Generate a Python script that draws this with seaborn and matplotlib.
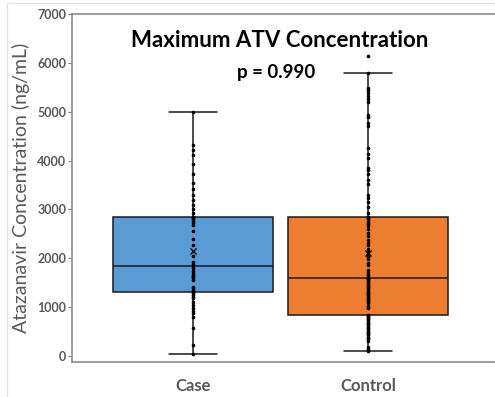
import numpy as np
import pandas as pd
import matplotlib
matplotlib.use("Agg")
import matplotlib.pyplot as plt
import seaborn as sns
from matplotlib.patches import Rectangle

# values (ng/mL)
case_vals = [50, 219, 568, 805, 875, 928, 977, 1050, 1113, 1180, 1215, 1250, 1285,
             1305,
             1317, 1352, 1387, 1420, 1557, 1590, 1613, 1640, 1660, 1707, 1740, 1800,
             1850,
             1879, 1932, 2050, 2275, 2391, 2561, 2684, 2719, 2766, 2800, 2830, 2845,
             2855,
             2924, 3006, 3088, 3197, 3299, 3416, 3551, 3715, 3920, 4119, 4207, 4309, 5000]

control_vals = [109, 123, 150, 191, 300, 342, 370, 396, 420, 445, 470, 498, 520, 547,
                575, 600, 630, 656, 680, 703, 730, 752, 780, 805, 820,
                840,
                977, 1000, 1025, 1080, 1120, 1130, 1161, 1190, 1215, 1240, 1264, 1290,
                1300, 1317, 1350, 1387, 1410, 1434, 1460, 1490, 1520, 1550, 1572, 1590,
                1598,
                1660, 1680, 1727, 1762, 1865, 1900, 1982, 2022, 2050, 2090, 2137, 2200,
                2275, 2322, 2377, 2450, 2514, 2596, 2664, 2700, 2719, 2773, 2800, 2822,
                2842,
                2924, 3059, 3150, 3231, 3299, 3525, 3607, 3730, 3797, 3846, 4051, 4139,
                4256, 4699, 4768, 4891, 4939, 5191, 5260, 5314, 5383, 5437, 5486, 5793,
                6133]

groups = ["Case", "Control"]
box_colors = ["#5B9BD5", "#ED7D31"]
title = "Maximum ATV Concentration"
p_text = "p = 0.990"
ylabel = "Atazanavir Concentration (ng/mL)"

df = pd.DataFrame({
    "group": ["Case"] * len(case_vals) + ["Control"] * len(control_vals),
    "conc": case_vals + control_vals,
})

sns.set_style("white")
plt.rcParams["font.family"] = ["Lato", "DejaVu Sans"]

fig = plt.figure(figsize=(4.95, 3.97), dpi=100)
ax = fig.add_axes([72 / 495, 35 / 397, 423 / 495, 348 / 397])

sns.boxplot(data=df, x="group", y="conc", order=groups, hue="group",
            palette=box_colors, legend=False, width=0.91, whis=1.5,
            showfliers=False, showmeans=True, capwidths=0.27,
            meanprops=dict(marker="x", markeredgecolor="black", markersize=4,
                           markeredgewidth=1),
            boxprops=dict(edgecolor="#1a1a1a", linewidth=1.1),
            medianprops=dict(color="#1a1a1a", linewidth=1.1),
            whiskerprops=dict(color="#1a1a1a", linewidth=1.1),
            capprops=dict(color="#1a1a1a", linewidth=1.1),
            saturation=1, ax=ax)

sns.stripplot(data=df, x="group", y="conc", order=groups, color="black",
              jitter=False, size=2.6, ax=ax, zorder=5)

ax.set_xlim(-0.691, 1.726)
ax.set_ylim(-123, 7000)
ax.set_yticks(range(0, 7001, 1000))
ax.set_xlabel("")
ax.set_ylabel(ylabel, fontsize=14, color="#595959", labelpad=5)

for lab in ax.get_yticklabels():
    lab.set_fontweight("bold")
ax.tick_params(axis="y", labelsize=9, labelcolor="#595959", left=True,
               length=3, width=0.8, color="#808080", pad=1)
ax.tick_params(axis="x", labelsize=12, labelcolor="#595959", bottom=False, pad=8)
for lab in ax.get_xticklabels():
    lab.set_fontweight("bold")

for side in ["left", "top", "bottom"]:
    ax.spines[side].set_color("#8c8c8c")
    ax.spines[side].set_linewidth(1.2)
ax.spines["right"].set_visible(False)

ax.text(0.492, 0.925, title, transform=ax.transAxes, ha="center", va="center",
        fontsize=16, fontweight="bold", color="black")
ax.text(0.482, 0.833, p_text, transform=ax.transAxes, ha="center", va="center",
        fontsize=13.5, fontweight="bold", color="black")

# faint outer chart border
fig.patches.append(Rectangle((7 / 495, -0.1), 1.2, (394 / 397) + 0.1,
                             transform=fig.transFigure, fill=False,
                             edgecolor="#e3e3e3", linewidth=1))

fig.savefig("out.png", dpi=100)
